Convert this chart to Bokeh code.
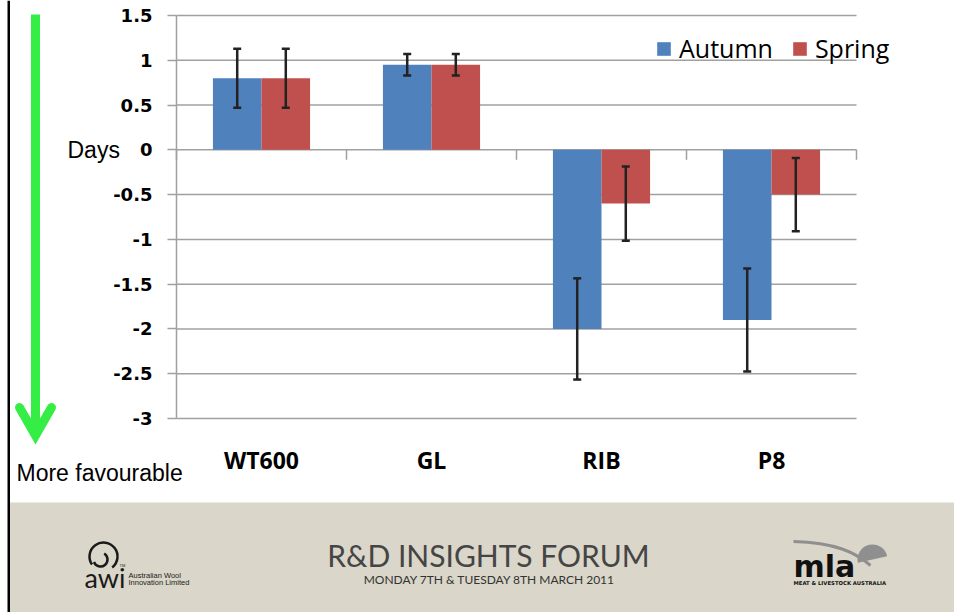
import numpy as np
from bokeh.plotting import figure
from bokeh.models import (Range1d, FixedTicker, NumeralTickFormatter, Legend, LegendItem,
                          ColumnDataSource, Whisker, TeeHead)
from bokeh.core.properties import value
from bokeh.embed import file_html
from bokeh.resources import INLINE

# ---------------- data ----------------
categories = ["WT600", "GL", "RIB", "P8"]
series_names = ["Autumn", "Spring"]
autumn = [0.8, 0.95, -2.0, -1.9]
spring = [0.8, 0.95, -0.6, -0.5]
autumn_err = [0.33, 0.12, 0.565, 0.575]
spring_err = [0.33, 0.12, 0.415, 0.41]
y_ticks = [-3, -2.5, -2, -1.5, -1, -0.5, 0, 0.5, 1, 1.5]
y_axis_text = "Days"
arrow_text = "More favourable"
banner_title = "R&D INSIGHTS FORUM"
banner_date = "MONDAY 7TH & TUESDAY 8TH MARCH 2011"
awi_lines = ["Australian Wool", "Innovation Limited"]
mla_caption = "MEAT & LIVESTOCK AUSTRALIA"

# ---------------- styles / layout ----------------
BLUE = "#4f81bd"
RED = "#c0504d"
GRID = "#a0a0a0"
ERR = "#222222"
GREEN = "#35ee45"
BEIGE = "#dad6c9"
W, H = 954, 612
# pixel anchors of the plot area
PX_LEFT, PX_RIGHT = 176, 856      # category axis 0 .. n
PX_TOP, PX_BOTTOM = 15, 418       # y = 1.5 .. -3

n = len(categories)
y_min, y_max = min(y_ticks), max(y_ticks)
px_per_x = (PX_RIGHT - PX_LEFT) / n
px_per_y = (PX_BOTTOM - PX_TOP) / (y_max - y_min)
x_start = -PX_LEFT / px_per_x
x_end = n + (W - PX_RIGHT) / px_per_x
y_end = y_max + PX_TOP / px_per_y
y_start = y_min - (H - PX_BOTTOM) / px_per_y

centers = np.arange(n) + 0.5
bar_w = 1 / 3.5
x_aut = centers - bar_w / 2
x_spr = centers + bar_w / 2

p = figure(width=W, height=H, x_range=Range1d(x_start, x_end), y_range=Range1d(y_start, y_end),
           output_backend="svg", toolbar_location=None, min_border=0)
p.extra_x_ranges = {"px": Range1d(0, W)}
p.extra_y_ranges = {"px": Range1d(H, 0)}
p.outline_line_color = None
p.background_fill_color = "white"
p.border_fill_color = "white"
p.grid.visible = False

PX = dict(x_range_name="px", y_range_name="px")

# gridlines (under bars)
p.segment(x0=0, x1=n, y0=y_ticks, y1=y_ticks, line_color=GRID, line_width=1.5)
# category boundary tick marks on the zero line
tick_len = 10 / px_per_y
bounds = np.arange(n + 1)
p.segment(x0=bounds, y0=0, x1=bounds, y1=-tick_len, line_color=GRID, line_width=1.5)

src_a = ColumnDataSource(dict(x=x_aut, top=autumn,
                              upper=np.array(autumn) + np.array(autumn_err),
                              lower=np.array(autumn) - np.array(autumn_err)))
src_s = ColumnDataSource(dict(x=x_spr, top=spring,
                              upper=np.array(spring) + np.array(spring_err),
                              lower=np.array(spring) - np.array(spring_err)))

ra = p.vbar(x="x", top="top", bottom=0, width=bar_w, source=src_a,
            fill_color=BLUE, line_color=None)
rs = p.vbar(x="x", top="top", bottom=0, width=bar_w, source=src_s,
            fill_color=RED, line_color=None)

for src in (src_a, src_s):
    p.add_layout(Whisker(source=src, base="x", upper="upper", lower="lower",
                         level="annotation", line_color=ERR, line_width=2.5,
                         upper_head=TeeHead(size=8, line_color=ERR, line_width=2.5),
                         lower_head=TeeHead(size=8, line_color=ERR, line_width=2.5)))

# y axis (fixed at the left edge of the category range)
ya = p.yaxis[0]
ya.fixed_location = 0
ya.bounds = (y_min, y_max)
ya.ticker = FixedTicker(ticks=y_ticks)
ya.formatter = NumeralTickFormatter(format="0.[0]")
ya.major_tick_out = 9
ya.major_tick_in = 0
ya.minor_tick_line_color = None
ya.axis_line_color = GRID
ya.axis_line_width = 1.5
ya.major_tick_line_color = GRID
ya.major_tick_line_width = 1.5
ya.major_label_standoff = 15
ya.major_label_text_font = "DejaVu Sans"
ya.major_label_text_font_style = "bold"
ya.major_label_text_font_size = "18px"
ya.major_label_text_color = "black"

# x axis (category labels under the -3 line)
xa = p.xaxis[0]
xa.fixed_location = y_min
xa.bounds = (0, n)
xa.ticker = FixedTicker(ticks=list(centers))
xa.major_label_overrides = {float(c): cat for c, cat in zip(centers, categories)}
xa.axis_line_color = None
xa.major_tick_line_color = None
xa.minor_tick_line_color = None
xa.major_tick_out = 0
xa.major_tick_in = 0
xa.major_label_standoff = 25
xa.major_label_text_font = "Open Sans"
xa.major_label_text_font_style = "bold"
xa.major_label_text_font_size = "23px"
xa.major_label_text_color = "black"

# legend
legend = Legend(items=[LegendItem(label=series_names[0], renderers=[ra]),
                       LegendItem(label=series_names[1], renderers=[rs])],
                orientation="horizontal", location=(655, H - 65), padding=0, margin=0,
                spacing=18, glyph_width=17, glyph_height=17, label_standoff=7,
                label_text_font="Open Sans", label_text_font_size="25px",
                label_text_color="black",
                border_line_color=None, background_fill_alpha=0)
p.add_layout(legend)

# ---------------- slide decorations (pixel coordinates) ----------------
# banner
p.quad(left=[9.5], right=[W], top=[502], bottom=[H], fill_color=BEIGE, line_color=None, **PX)
# left border line
p.quad(left=[7], right=[9.5], top=[0], bottom=[H], fill_color="black", line_color=None, **PX)

# "Days" and "More favourable"
p.text(x=[67], y=[149], text=[y_axis_text], text_align="left", text_baseline="middle",
       text_font=value("Liberation Sans"), text_font_size="23px", text_color="black", **PX)
p.text(x=[16], y=[472], text=[arrow_text], text_align="left", text_baseline="middle",
       text_font=value("Liberation Sans"), text_font_size="23px", text_color="black", **PX)

# green arrow
p.segment(x0=[35], y0=[14], x1=[35], y1=[432], line_color=GREEN, line_width=9,
          line_cap="butt", **PX)
p.line(x=[19, 35, 51], y=[407, 435, 407], line_color=GREEN, line_width=9,
       line_cap="round", line_join="miter", **PX)

# banner texts
p.text(x=[488], y=[554], text=[banner_title], text_align="center", text_baseline="middle",
       text_font=value("Lato"), text_font_size="30px", text_color="#454545", **PX)
p.text(x=[489], y=[579], text=[banner_date], text_align="center", text_baseline="middle",
       text_font=value("Lato"), text_font_size="12px", text_color="#333333", **PX)

# AWI logo
p.arc(x=[103], y=[556], radius=14, start_angle=-0.9, end_angle=3.75,
      line_color="#1a1a1a", line_width=2.5, **PX)
p.arc(x=[100], y=[559], radius=7, start_angle=3.5, end_angle=7.3,
      line_color="#1a1a1a", line_width=2.5, **PX)
p.text(x=[119], y=[565], text=["TM"], text_align="left", text_baseline="middle",
       text_font=value("Liberation Sans"), text_font_size="4px", text_color="#1a1a1a", **PX)
p.text(x=[84], y=[577], text=["awi"], text_align="left", text_baseline="middle",
       text_font=value("Lato"), text_font_size="27px", text_color="#1a1a1a", **PX)
p.text(x=[128, 128], y=[575, 582], text=awi_lines, text_align="left", text_baseline="middle",
       text_font=value("Liberation Sans"), text_font_size="7.5px", text_color="#1a1a1a", **PX)

# MLA logo
p.bezier(x0=[793], y0=[541], x1=[870], y1=[565], cx0=[835], cy0=[542], cx1=[855], cy1=[552],
         line_color="#8f8f8f", line_width=3, **PX)
p.wedge(x=[872], y=[559], radius=15, start_angle=0.22, end_angle=3.36,
        fill_color="#8f8f8f", line_color=None, **PX)
p.text(x=[793], y=[566], text=["mla"], text_align="left", text_baseline="middle",
       text_font=value("DejaVu Sans"), text_font_style="bold", text_font_size="30px",
       text_color="#111111", **PX)
p.text(x=[793], y=[582], text=[mla_caption], text_align="left", text_baseline="middle",
       text_font=value("DejaVu Sans"), text_font_style="bold", text_font_size="5.3px",
       text_color="#111111", **PX)

open("out.html", "w").write(file_html(p, INLINE))
